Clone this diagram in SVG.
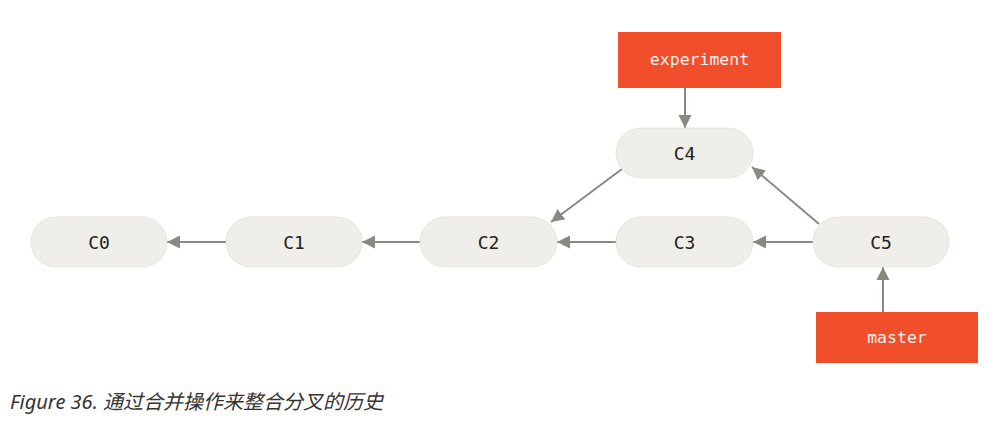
<svg xmlns="http://www.w3.org/2000/svg" width="1008" height="430" viewBox="0 0 1008 430">
<style>
.commit rect{fill:#efeee8;stroke:#e2e0d8;stroke-width:0.8}
.commit text{font-family:"DejaVu Sans Mono","Liberation Mono",monospace;font-size:18px;fill:#222;text-anchor:middle;dominant-baseline:central}
.ref rect{fill:#f14e2c}
.ref text{font-family:"DejaVu Sans Mono","Liberation Mono",monospace;font-size:16.5px;fill:#f7f2ee;text-anchor:middle;dominant-baseline:central}
.conn line{stroke:#8c8780;stroke-width:2;marker-end:url(#arr)}
.caption{font-family:"Noto Sans","Noto Sans CJK SC",sans-serif;font-style:italic;font-size:20px;fill:#333}
</style>
<defs>
<marker id="arr" markerUnits="userSpaceOnUse" markerWidth="14" markerHeight="14" viewBox="0 0 14 14" refX="13" refY="7" orient="auto">
<path d="M0,0.5 L13,7 L0,13.5 Z" fill="#8c8780"/>
</marker>
</defs>
<rect width="1008" height="430" fill="#fff"/>
<g id="connectors" class="conn">
<line x1="226" y1="242" x2="167" y2="242"/>
<line x1="420" y1="242" x2="362" y2="242"/>
<line x1="616" y1="242" x2="557" y2="242"/>
<line x1="622" y1="169" x2="551" y2="222"/>
<line x1="813" y1="242" x2="753" y2="242"/>
<line x1="819" y1="224" x2="752" y2="167"/>
<line x1="685" y1="88" x2="685" y2="128"/>
<line x1="883" y1="312" x2="883" y2="267"/>
</g>
<g id="C0" class="commit"><rect x="31" y="217" width="136" height="50" rx="25"/><text x="99" y="242">C0</text></g>
<g id="C1" class="commit"><rect x="226" y="217" width="136" height="50" rx="25"/><text x="294" y="242">C1</text></g>
<g id="C2" class="commit"><rect x="420" y="217" width="137" height="50" rx="25"/><text x="488.5" y="242">C2</text></g>
<g id="C3" class="commit"><rect x="616" y="217" width="137" height="50" rx="25"/><text x="684.5" y="242">C3</text></g>
<g id="C4" class="commit"><rect x="616" y="128" width="137" height="50" rx="25"/><text x="684.5" y="153">C4</text></g>
<g id="C5" class="commit"><rect x="813" y="217" width="136" height="50" rx="25"/><text x="881" y="242">C5</text></g>
<g id="experiment" class="ref"><rect x="618" y="32" width="163" height="56"/><text x="699.5" y="59">experiment</text></g>
<g id="master" class="ref"><rect x="816" y="312" width="162" height="51"/><text x="897" y="337.5">master</text></g>
<text class="caption" x="10" y="409">Figure 36. 通过合并操作来整合分叉的历史</text>
</svg>
